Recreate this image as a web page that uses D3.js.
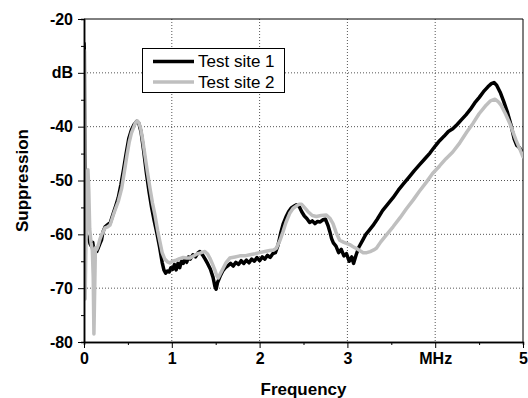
<!DOCTYPE html>
<html>
<head>
  <meta charset="utf-8">
  <title>Suppression vs Frequency</title>
  <style>
  body { margin: 0; background: #fff; }
  svg { font-family: "Liberation Sans", Arial, sans-serif; }
  .tick text { font-size: 16px; font-weight: bold; fill: #000; }
  .axis path, .axis line { stroke: #000; }
  .axis path { stroke-width: 1.5px; }
  .grid line { stroke: #555; stroke-width: 1px; stroke-dasharray: 1,2; }
  .frame { fill: none; stroke: #000; stroke-width: 1px; }
  .line { fill: none; stroke-width: 3.5px; stroke-linejoin: round; stroke-linecap: round; }
  .title { font-size: 17px; font-weight: bold; text-anchor: middle; }
  .legend text { font-size: 17px; }
  </style>
</head>
<body>
  <div id="chart"></div>
  <script src="https://cdn.jsdelivr.net/npm/d3@7"></script>
  <script>
  // tick values and labels
  var xTicks = [0, 1, 2, 3, 4, 5];
  var xLabels = ["0", "1", "2", "3", "MHz", "5"];
  var xMinor = [0.5, 1.5, 2.5, 3.5, 4.5];
  var yTicks = [-80, -70, -60, -50, -40, -30, -20];
  var yLabels = ["-80", "-70", "-60", "-50", "-40", "dB", "-20"];
  var yMinor = [-75, -65, -55, -45, -35, -25];
  var seriesNames = ["Test site 1", "Test site 2"];

  // Test site 1 [MHz, dB]
  var site1 = [
    [0, -24.5], [0.004, -26], [0.008, -45], [0.013, -57], [0.02, -59.5], [0.03, -60.2],
    [0.05, -60.7], [0.07, -61.8], [0.087, -62.3], [0.1, -61.5], [0.115, -63.5], [0.13, -62.8],
    [0.145, -63.2], [0.165, -62.4], [0.185, -61.6], [0.2, -61.0], [0.215, -59.6], [0.24, -58.6],
    [0.27, -58.2], [0.3, -57.8], [0.33, -56.3], [0.36, -54.8], [0.39, -53.2], [0.42, -50.8],
    [0.45, -48.0], [0.48, -45.0], [0.51, -42.2], [0.54, -40.6], [0.57, -39.6], [0.6, -39.0],
    [0.625, -39.4], [0.65, -41.0], [0.68, -44.5], [0.71, -48.5], [0.74, -52], [0.77, -55],
    [0.8, -57.5], [0.83, -59.8], [0.86, -62.3], [0.89, -65.2], [0.91, -66.6], [0.93, -67.2],
    [0.95, -66.8], [0.97, -67.0], [0.99, -66.2], [1.01, -66.5], [1.03, -65.6], [1.05, -66.6],
    [1.07, -65.4], [1.09, -66.2], [1.11, -65.0], [1.13, -65.4], [1.15, -64.5], [1.17, -65.2],
    [1.19, -64.2], [1.21, -64.6], [1.24, -63.8], [1.27, -64.2], [1.30, -63.4], [1.32, -63.2],
    [1.35, -63.8], [1.38, -64.6], [1.41, -65.5], [1.44, -66.5], [1.47, -68.0], [1.49, -69.6],
    [1.505, -70.2], [1.52, -69.0], [1.55, -67.8], [1.58, -66.8], [1.61, -66.2], [1.64, -65.8],
    [1.67, -65.4], [1.70, -65.9], [1.73, -65.2], [1.76, -65.6], [1.79, -64.9], [1.82, -65.4],
    [1.85, -64.8], [1.88, -65.3], [1.91, -64.6], [1.94, -65.0], [1.97, -64.3], [2.00, -64.9],
    [2.03, -64.2], [2.06, -64.6], [2.09, -63.9], [2.12, -64.3], [2.15, -63.6], [2.18, -63.4],
    [2.21, -62.0], [2.24, -59.8], [2.27, -58.0], [2.30, -56.8], [2.33, -55.8], [2.36, -55.1],
    [2.39, -54.8], [2.42, -54.5], [2.45, -54.8], [2.48, -55.8], [2.51, -56.6], [2.54, -57.1],
    [2.57, -57.8], [2.60, -57.5], [2.63, -58.0], [2.66, -57.6], [2.69, -57.7], [2.72, -57.3],
    [2.75, -57.2], [2.78, -58.4], [2.80, -59.5], [2.82, -60.8], [2.84, -61.6], [2.87, -62.2],
    [2.90, -63.4], [2.93, -62.8], [2.96, -64.0], [2.99, -63.6], [3.02, -65.0], [3.05, -64.2],
    [3.07, -65.4], [3.10, -63.8], [3.13, -62.4], [3.17, -61.2], [3.21, -60.0], [3.25, -59.2],
    [3.29, -58.4], [3.34, -57.2], [3.40, -55.6], [3.46, -54.4], [3.52, -53.2], [3.58, -51.8],
    [3.64, -50.6], [3.70, -49.4], [3.76, -48.2], [3.82, -47.1], [3.88, -46.0], [3.94, -44.9],
    [4.00, -43.6], [4.05, -42.6], [4.10, -41.8], [4.15, -40.9], [4.20, -40.4], [4.25, -39.6],
    [4.30, -38.7], [4.35, -37.8], [4.40, -36.8], [4.45, -35.6], [4.50, -34.6], [4.55, -33.5],
    [4.60, -32.6], [4.64, -32.0], [4.67, -31.8], [4.70, -32.3], [4.74, -33.6], [4.78, -35.3],
    [4.82, -37.2], [4.86, -39.5], [4.90, -42.3], [4.93, -43.5], [4.96, -43.9], [5.00, -45.0]
  ];

  // Test site 2 [MHz, dB]
  var site2 = [
    [0, -25.8], [0.004, -45], [0.008, -62], [0.013, -72], [0.02, -64], [0.03, -56],
    [0.045, -48], [0.055, -52], [0.065, -59], [0.08, -61.5], [0.095, -63], [0.105, -68],
    [0.113, -78.5], [0.122, -70], [0.13, -62.5], [0.145, -62.8], [0.163, -62.0], [0.18, -61.0],
    [0.2, -60.1], [0.24, -58.8], [0.27, -58.6], [0.296, -58.3], [0.334, -56.4], [0.36, -55.2],
    [0.39, -53.9], [0.43, -51.4], [0.466, -47.7], [0.49, -45.2], [0.516, -42.8], [0.54, -41.2],
    [0.561, -40.3], [0.585, -39.3], [0.607, -38.9], [0.625, -39.3], [0.645, -40.3], [0.67, -42.6],
    [0.694, -45.3], [0.72, -48.2], [0.751, -51.4], [0.78, -54.2], [0.808, -56.4], [0.84, -59.4],
    [0.865, -61.4], [0.89, -63.4], [0.92, -64.6], [0.95, -65.1], [0.978, -65.3], [1.01, -65.0],
    [1.05, -64.8], [1.09, -64.5], [1.13, -64.3], [1.17, -64.4], [1.206, -64.4], [1.25, -64.0],
    [1.29, -63.6], [1.32, -63.5], [1.35, -63.3], [1.377, -63.2], [1.405, -63.6], [1.433, -64.4],
    [1.46, -65.4], [1.49, -66.6], [1.51, -67.6], [1.528, -68.1], [1.55, -67.4], [1.585, -66.3],
    [1.62, -65.2], [1.66, -64.4], [1.72, -64.2], [1.775, -64.0], [1.83, -64.0], [1.89, -63.8],
    [1.95, -63.6], [2.0, -63.4], [2.06, -63.2], [2.116, -63.0], [2.16, -62.9], [2.19, -62.6],
    [2.23, -61.2], [2.267, -59.5], [2.30, -57.8], [2.343, -56.1], [2.38, -55.2], [2.42, -54.7],
    [2.45, -54.4], [2.477, -54.4], [2.51, -55.0], [2.552, -55.8], [2.60, -56.5], [2.647, -56.7],
    [2.70, -56.5], [2.76, -56.4], [2.80, -57.0], [2.836, -58.0], [2.87, -59.6], [2.912, -61.1],
    [2.96, -61.5], [3.026, -61.9], [3.064, -62.3], [3.10, -62.6], [3.14, -63.0], [3.18, -63.4],
    [3.22, -63.4], [3.26, -63.2], [3.30, -62.9], [3.33, -62.6], [3.38, -61.4], [3.44, -60.2],
    [3.52, -58.6], [3.60, -56.9], [3.67, -55.3], [3.75, -53.6], [3.82, -52.0], [3.90, -50.3],
    [3.97, -48.7], [4.05, -47.3], [4.12, -46.0], [4.20, -44.7], [4.28, -43.0], [4.36, -41.0],
    [4.43, -39.4], [4.50, -37.6], [4.55, -36.6], [4.58, -36.0], [4.63, -35.2], [4.68, -34.9],
    [4.72, -35.4], [4.75, -36.0], [4.80, -37.6], [4.85, -39.4], [4.92, -42.5], [4.96, -44.0],
    [5.0, -45.6]
  ];

  var colors = ["#000000", "#bfbfbf"];

  var margin = {left: 84, top: 19};
  var width = 439;
  var height = 323;

  var svg = d3.select("#chart")
  .append("svg")
  .attr("width", 528)
  .attr("height", 398);

  var g = svg.append("g")
  .attr("transform", "translate(" + margin.left + "," + margin.top + ")");

  var x = d3.scaleLinear().domain([0, 5]).range([0, width]);
  var y = d3.scaleLinear().domain([-80, -20]).range([height, 0]);

  //grid lines
  g.append("g")
  .attr("class", "grid")
  .selectAll("line")
  .data(xTicks.slice(1, -1))
  .enter().append("line")
  .attr("x1", function(d) { return x(d); })
  .attr("x2", function(d) { return x(d); })
  .attr("y1", 0)
  .attr("y2", height);

  g.append("g")
  .attr("class", "grid")
  .selectAll("line")
  .data(yTicks.slice(1, -1))
  .enter().append("line")
  .attr("x1", 0)
  .attr("x2", width)
  .attr("y1", function(d) { return y(d); })
  .attr("y2", function(d) { return y(d); });

  //frame top and right
  g.append("path")
  .attr("class", "frame")
  .attr("d", "M0,0H" + width + "V" + height);

  //curves
  g.append("clipPath").attr("id", "clip")
  .append("rect").attr("width", width).attr("height", height);

  var line = d3.line()
  .x(function(d) { return x(d[0]); })
  .y(function(d) { return y(d[1]); });

  [site1, site2].forEach(function(s, i) {
    g.append("path")
    .datum(s)
    .attr("class", "line")
    .attr("clip-path", "url(#clip)")
    .attr("stroke", colors[i])
    .attr("d", line);
  });

  //axes
  g.append("g")
  .attr("class", "axis")
  .attr("transform", "translate(0," + height + ")")
  .call(d3.axisBottom(x).tickValues(xMinor).tickSize(3).tickFormat(""));

  g.append("g")
  .attr("class", "axis")
  .attr("transform", "translate(0," + height + ")")
  .call(d3.axisBottom(x).tickValues(xTicks).tickSize(6).tickSizeOuter(0).tickPadding(5)
    .tickFormat(function(d, i) { return xLabels[i]; }));

  g.append("g")
  .attr("class", "axis")
  .call(d3.axisLeft(y).tickValues(yMinor).tickSize(3).tickFormat(""));

  g.append("g")
  .attr("class", "axis")
  .call(d3.axisLeft(y).tickValues(yTicks).tickSize(6).tickSizeOuter(0).tickPadding(5)
    .tickFormat(function(d, i) { return yLabels[i]; }));

  //legend
  var legend = g.append("g").attr("class", "legend");
  legend.append("rect")
  .attr("x", 58.5).attr("y", 29.5)
  .attr("width", 142).attr("height", 44)
  .attr("fill", "#fff").attr("stroke", "#000").attr("stroke-width", 1);

  seriesNames.forEach(function(name, i) {
    var ly = 42.5 + i * 20.5;
    legend.append("line")
    .attr("x1", 69).attr("x2", 110)
    .attr("y1", ly).attr("y2", ly)
    .attr("stroke", colors[i]).attr("stroke-width", 3.5);
    legend.append("text")
    .attr("x", 114).attr("y", ly + 5.5)
    .text(name);
  });

  //axis titles
  svg.append("text")
  .attr("class", "title")
  .attr("x", margin.left + width / 2)
  .attr("y", 395)
  .text("Frequency");

  svg.append("text")
  .attr("class", "title")
  .attr("transform", "translate(28," + (margin.top + height / 2) + ") rotate(-90)")
  .text("Suppression");
  </script>
</body>
</html>
